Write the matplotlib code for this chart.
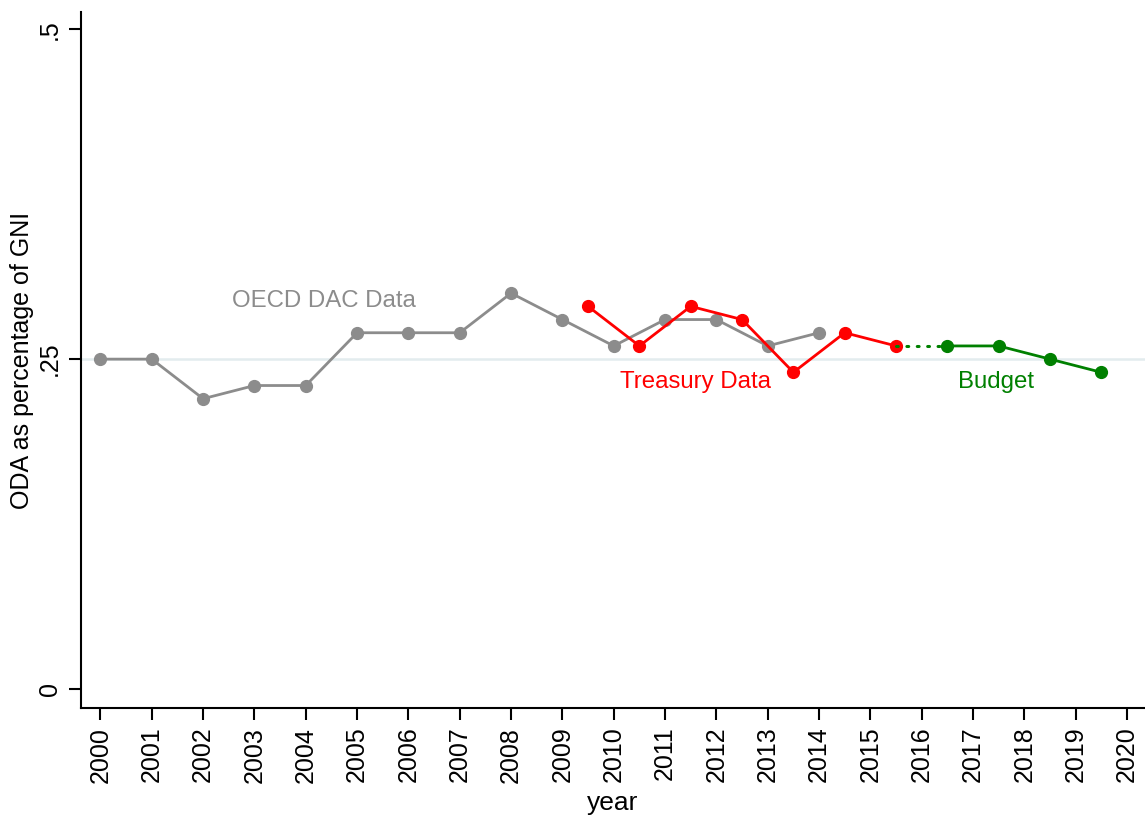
import matplotlib
matplotlib.use('Agg')
import matplotlib.pyplot as plt

plt.rcParams['font.family'] = ['Liberation Sans', 'DejaVu Sans']

# OECD DAC series
oecd_years = [2000, 2001, 2002, 2003, 2004, 2005, 2006, 2007, 2008, 2009, 2010, 2011, 2012, 2013, 2014]
oecd_vals = [0.25, 0.25, 0.22, 0.23, 0.23, 0.27, 0.27, 0.27, 0.30, 0.28, 0.26, 0.28, 0.28, 0.26, 0.27]

# Treasury series (fiscal years, plotted mid-year)
treas_years = [2009.5, 2010.5, 2011.5, 2012.5, 2013.5, 2014.5, 2015.5]
treas_vals = [0.29, 0.26, 0.29, 0.28, 0.24, 0.27, 0.26]

# Budget projections
budget_years = [2016.5, 2017.5, 2018.5, 2019.5]
budget_vals = [0.26, 0.26, 0.25, 0.24]

GRAY = '#8c8c8c'
RED = '#ff0000'
GREEN = '#008000'

fig = plt.figure(figsize=(11.45, 8.18), dpi=100)
ax = fig.add_axes([0.0707, 0.1345, 0.9293, 0.8505])

ax.axhline(0.25, color='#e3ecee', linewidth=1.8, zorder=0)

ax.plot(oecd_years, oecd_vals, color=GRAY, linewidth=2, marker='o', markersize=8.5)
ax.plot(treas_years, treas_vals, color=RED, linewidth=2, marker='o', markersize=8.5)
ax.plot([treas_years[-1], budget_years[0]], [treas_vals[-1], budget_vals[0]],
        color=GREEN, linewidth=2.2, linestyle=(0, (0.6, 2.8)), dash_capstyle='round')
ax.plot(budget_years, budget_vals, color=GREEN, linewidth=2, marker='o', markersize=8.5)

ax.text(2004.35, 0.294, 'OECD DAC Data', color=GRAY, fontsize=17.3, ha='center', va='center')
ax.text(2011.6, 0.233, 'Treasury Data', color=RED, fontsize=17.3, ha='center', va='center')
ax.text(2017.45, 0.233, 'Budget', color=GREEN, fontsize=17.3, ha='center', va='center')

ax.set_xlim(1999.62, 2020.35)
ax.set_ylim(-0.0144, 0.5129)
ax.set_xticks(range(2000, 2021))
ax.set_xticklabels([str(y) for y in range(2000, 2021)], rotation=90, fontsize=18)
ax.set_yticks([0, 0.25, 0.5])
ax.set_yticklabels(['0', '.25', '.5'], rotation=90, va='center', fontsize=18)
ax.tick_params(axis='both', length=8.5, width=1.5, pad=5)

ax.spines['top'].set_visible(False)
ax.spines['right'].set_visible(False)
ax.spines['left'].set_linewidth(1.5)
ax.spines['bottom'].set_linewidth(1.5)

ax.set_xlabel('year', fontsize=19, labelpad=6)
ax.set_ylabel('ODA as percentage of GNI', fontsize=18)
ax.yaxis.set_label_coords(-0.044, 0.5)

fig.savefig('out.png', dpi=100)
